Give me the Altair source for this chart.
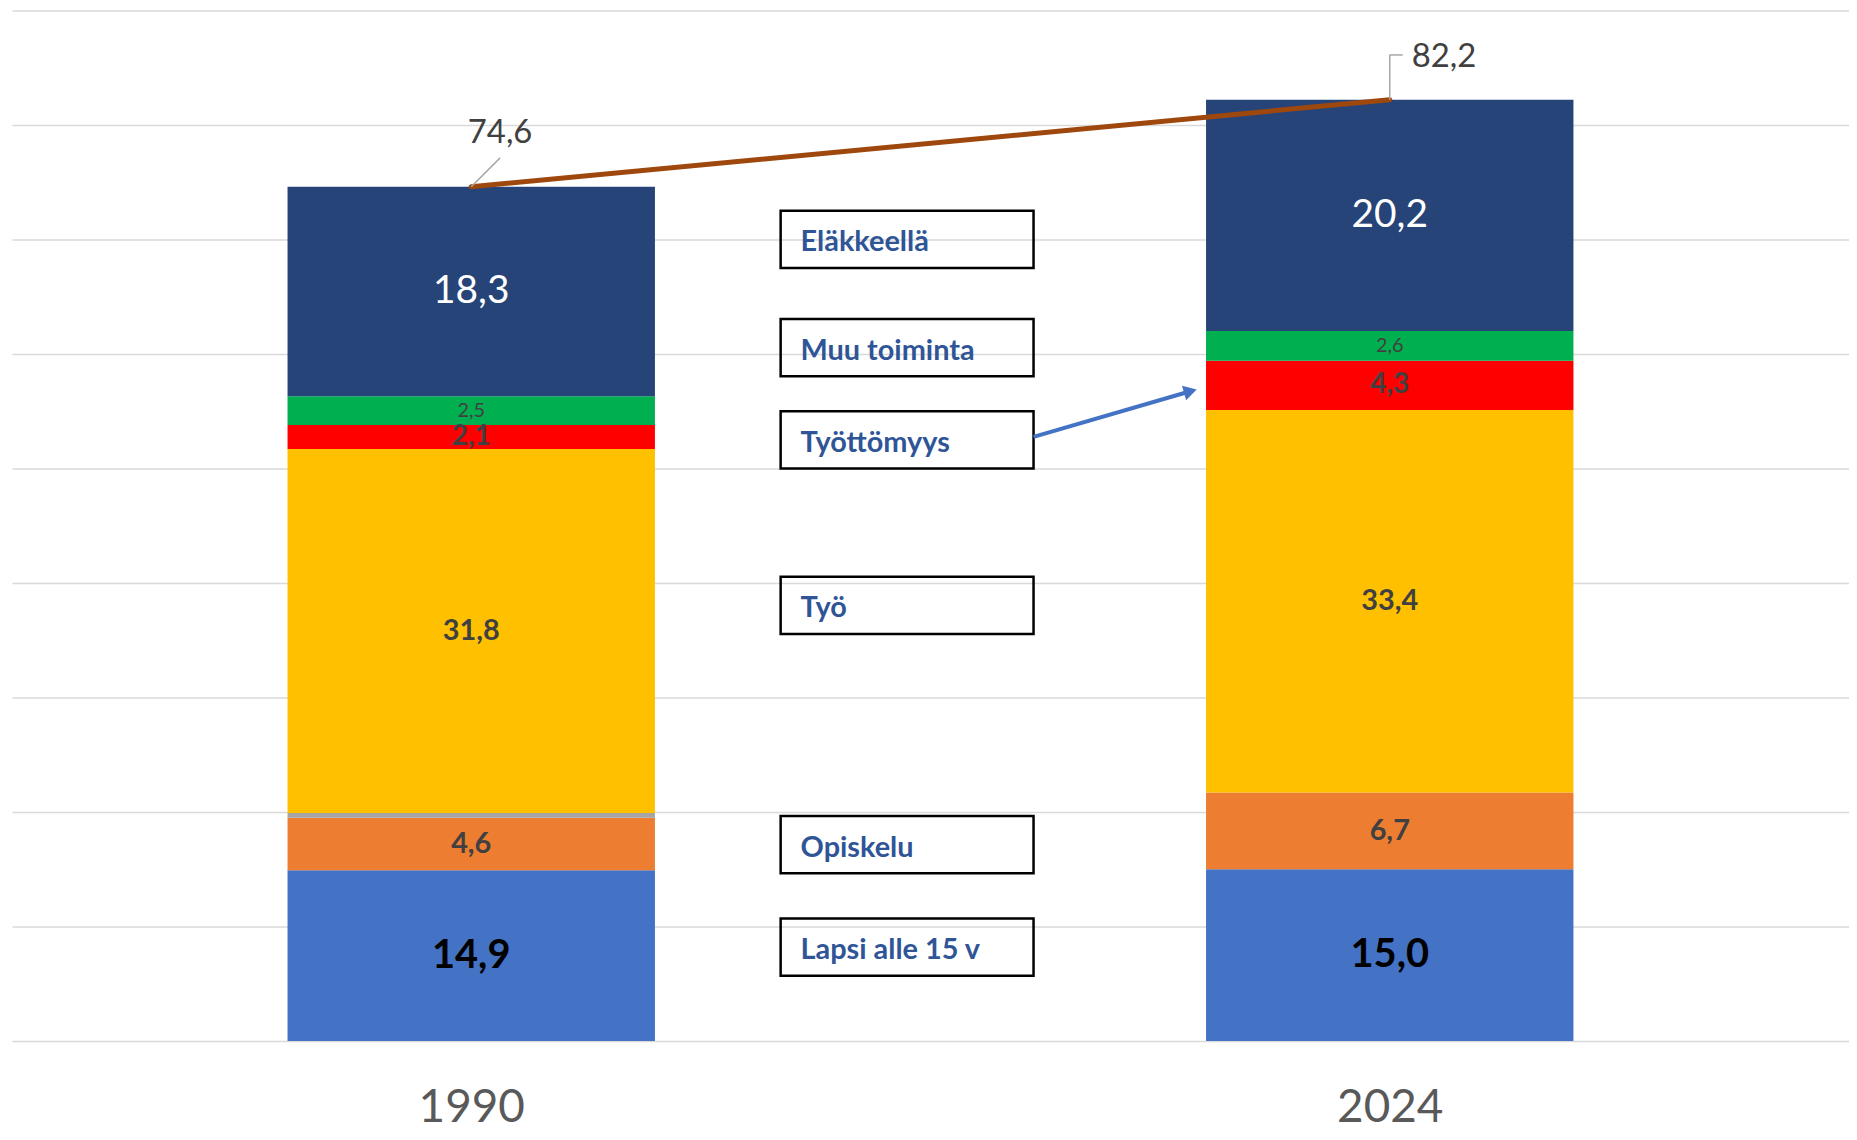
import altair as alt
import pandas as pd

# ---- data ----
years = ["1990", "2024"]
categories = ["Lapsi alle 15 v", "Opiskelu", "Varusmiespalvelus", "Työ",
              "Työttömyys", "Muu toiminta", "Eläkkeellä"]
lapsi = [14.9, 15.0]
opiskelu = [4.6, 6.7]
varusmies = [0.4, 0.0]
tyo = [31.8, 33.4]
tyottomyys = [2.1, 4.3]
muu = [2.5, 2.6]
elakkeella = [18.3, 20.2]
totals = [74.6, 82.2]

colors = ["#4472C4", "#ED7D31", "#A5A5A5", "#FFC000", "#FF0000", "#00B050", "#264478"]

# annotation boxes (legend substitute), centre in y-data units
box_labels = ["Eläkkeellä", "Muu toiminta", "Työttömyys", "Työ", "Opiskelu", "Lapsi alle 15 v"]
box_centres = [70.0, 60.55, 52.5, 38.05, 17.15, 8.2]

# ---- layout constants ----
W, H = 1845, 1035
XDOM = [-0.5, 1.5]
YDOM = [0, 90]
PX_X = W / (XDOM[1] - XDOM[0])
PX_Y = H / (YDOM[1] - YDOM[0])
BAR_HALF = 0.2
FONT = "Lato"

series = [lapsi, opiskelu, varusmies, tyo, tyottomyys, muu, elakkeella]
rows = []
for i, yr in enumerate(years):
    base = 0.0
    for cat, vals in zip(categories, series):
        v = vals[i]
        rows.append(dict(year=yr, pos=i, x0=i - BAR_HALF, x1=i + BAR_HALF,
                         cat=cat, value=v, y0=base, y1=base + v,
                         mid=base + v / 2, label=f"{v:.1f}".replace(".", ",")))
        base += v
seg = pd.DataFrame(rows)

tot = pd.DataFrame(dict(year=years, pos=list(range(len(years))), total=totals,
                        label=[f"{t:.1f}".replace(".", ",") for t in totals]))

label_expr = "[" + ",".join(f"'{y}'" for y in years) + "][datum.value]"


def xq(field):
    return alt.X(field, type="quantitative",
                 scale=alt.Scale(domain=XDOM, nice=False, zero=False),
                 axis=alt.Axis(values=list(range(len(years))), labelExpr=label_expr,
                               grid=False, ticks=False, tickSize=0, domain=False,
                               labelFont=FONT, labelFontSize=46, labelColor="#595959",
                               labelPadding=45, title=None))


def yq(field):
    return alt.Y(field, type="quantitative",
                 scale=alt.Scale(domain=YDOM, nice=False, zero=True),
                 axis=alt.Axis(values=list(range(0, 91, 10)), grid=True,
                               gridColor="#D9D9D9", gridWidth=1.5, labels=False,
                               ticks=False, domain=False, title=None))


bars = alt.Chart(seg).mark_bar().encode(
    x=xq("x0"), x2="x1", y=yq("y0"), y2="y1",
    color=alt.Color("cat:N", scale=alt.Scale(domain=categories, range=colors), legend=None),
)

label_style = {
    "Lapsi alle 15 v": dict(fontSize=40, fontWeight="bold", color="#000000"),
    "Opiskelu": dict(fontSize=29, fontWeight="bold", color="#404040"),
    "Työ": dict(fontSize=29, fontWeight="bold", color="#404040"),
    "Työttömyys": dict(fontSize=28, fontWeight="bold", color="#404040"),
    "Muu toiminta": dict(fontSize=20, fontWeight="normal", color="#404040"),
    "Eläkkeellä": dict(fontSize=39, fontWeight="normal", color="#FFFFFF"),
}
seg_labels = []
for cat, st in label_style.items():
    seg_labels.append(
        alt.Chart(seg).transform_filter(alt.datum.cat == cat).mark_text(
            font=FONT, baseline="middle", align="center", **st
        ).encode(x=xq("pos"), y=yq("mid"), text="label:N")
    )

line = alt.Chart(tot).mark_line(color="#9E480E", strokeWidth=5, strokeCap="round").encode(
    x=xq("pos"), y=yq("total")
)

# leader lines for total labels
lead = pd.DataFrame(dict(
    x=[0, 1, 1],
    x2=[0 + 29 / PX_X, 1, 1 + 13 / PX_X],
    y=[totals[0], totals[1], totals[1] + 45 / PX_Y],
    y2=[totals[0] + 29 / PX_Y, totals[1] + 45 / PX_Y, totals[1] + 45 / PX_Y],
))
leaders = alt.Chart(lead).mark_rule(color="#A6A6A6", strokeWidth=1.5).encode(
    x=xq("x"), x2="x2", y=yq("y"), y2="y2"
)

tot_lab0 = alt.Chart(tot).transform_filter(alt.datum.pos == 0).mark_text(
    font=FONT, fontSize=33, color="#404040", align="center", baseline="middle", dx=29, dy=-54
).encode(x=xq("pos"), y=yq("total"), text="label:N")
tot_lab1 = alt.Chart(tot).transform_filter(alt.datum.pos == 1).mark_text(
    font=FONT, fontSize=33, color="#404040", align="left", baseline="middle", dx=22, dy=-43
).encode(x=xq("pos"), y=yq("total"), text="label:N")

# annotation boxes
BOX_X0, BOX_X1, TEXT_X = 772 / PX_X + XDOM[0], 1026 / PX_X + XDOM[0], 792 / PX_X + XDOM[0]
BOX_HALF = 2.5
boxes_df = pd.DataFrame(dict(label=box_labels, c=box_centres,
                             b0=[c - BOX_HALF for c in box_centres],
                             b1=[c + BOX_HALF for c in box_centres],
                             bx0=BOX_X0, bx1=BOX_X1, tx=TEXT_X))
boxes = alt.Chart(boxes_df).mark_rect(fill="#FFFFFF", fillOpacity=0, stroke="#000000",
                                      strokeWidth=2.5).encode(
    x=xq("bx0"), x2="bx1", y=yq("b0"), y2="b1"
)
box_text = alt.Chart(boxes_df).mark_text(
    font=FONT, fontSize=29, fontWeight="bold", color="#2F5597", align="left",
    baseline="middle", dy=3
).encode(x=xq("tx"), y=yq("c"), text="label:N")

# arrow from Työttömyys box to the 2024 unemployment segment
tip_x = 1183.5 / PX_X + XDOM[0]
tip_y = (1043.5 - 391) / PX_Y
arrow_df = pd.DataFrame(dict(x=[BOX_X1], y=[box_centres[2] + 0.25], x2=[tip_x], y2=[tip_y]))
arrow_line = alt.Chart(arrow_df).mark_rule(color="#4472C4", strokeWidth=4).encode(
    x=xq("x"), x2="x2", y=yq("y"), y2="y2"
)
arrow_head = alt.Chart(arrow_df).mark_point(
    shape="triangle-right", filled=True, color="#4472C4", size=230, angle=344, opacity=1
).encode(x=xq("x2"), y=yq("y2"))

chart = alt.layer(
    bars, *seg_labels, line, leaders, tot_lab0, tot_lab1, boxes, box_text, arrow_line, arrow_head
).properties(
    width=W, height=H,
    padding={"left": 4, "top": 0, "right": 0, "bottom": 88},
    autosize=alt.AutoSizeParams(type="none"),
).configure_view(stroke=None)

chart.save("out.html", embed_options={"renderer": "svg", "actions": False})
